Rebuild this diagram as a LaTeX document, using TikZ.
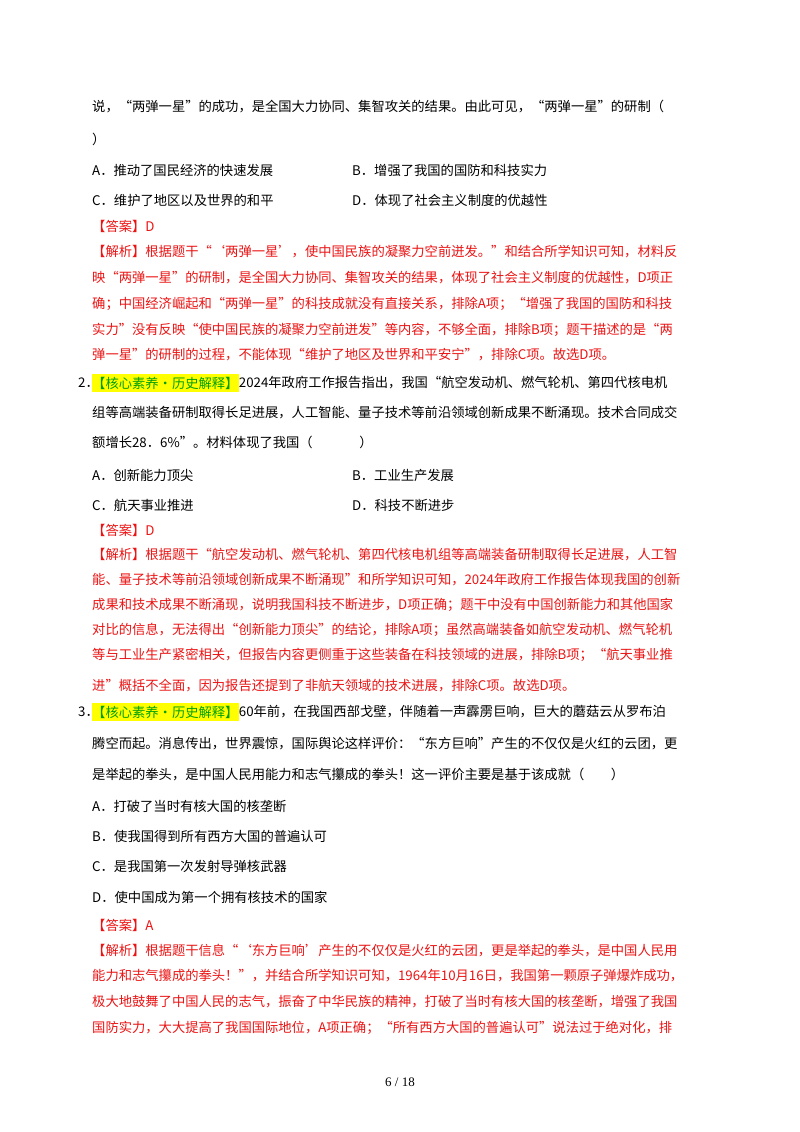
\documentclass[tikz,border=0pt]{standalone}
\usepackage{fontspec}
\setmainfont{Liberation Serif}
\newfontfamily\cjk{Noto Sans CJK SC}
\definecolor{ansred}{RGB}{235,20,20}
\definecolor{taggreen}{RGB}{0,160,0}
\definecolor{hl}{RGB}{255,255,0}
\begin{document}
\begin{tikzpicture}[x=1pt,y=-1pt,
  ln/.style={anchor=west,inner sep=0pt,font=\cjk\fontsize{13.3}{14}\selectfont},
  rd/.style={ln,text=ansred},
  tag/.style={ln,fill=hl,inner ysep=3pt,text=taggreen}]
\useasboundingbox[fill=white] (0,0) rectangle (800,1132);
% Q1 tail
\node[ln] (l1) at (92,107) {说，“两弹一星”的成功，是全国大力协同、集智攻关的结果。由此可见，“两弹一星”的研制（};
\node[ln] (l2) at (92,139) {）};
\node[ln] (o1a) at (92,170) {A．推动了国民经济的快速发展};
\node[ln] (o1b) at (352,170) {B．增强了我国的国防和科技实力};
\node[ln] (o1c) at (92,200) {C．维护了地区以及世界的和平};
\node[ln] (o1d) at (352,200) {D．体现了社会主义制度的优越性};
\node[rd] (a1) at (92,226) {【答案】D};
\node[rd] (e11) at (92,252) {【解析】根据题干“‘两弹一星’，使中国民族的凝聚力空前迸发。”和结合所学知识可知，材料反};
\node[rd] (e12) at (92,278) {映“两弹一星”的研制，是全国大力协同、集智攻关的结果，体现了社会主义制度的优越性，D项正};
\node[rd] (e13) at (92,304) {确；中国经济崛起和“两弹一星”的科技成就没有直接关系，排除A项；“增强了我国的国防和科技};
\node[rd] (e14) at (92,330) {实力”没有反映“使中国民族的凝聚力空前迸发”等内容，不够全面，排除B项；题干描述的是“两};
\node[rd] (e15) at (92,355) {弹一星”的研制的过程，不能体现“维护了地区及世界和平安宁”，排除C项。故选D项。};
% Q2
\node[ln] (n2) at (78,383) {2．};
\node[tag] (t2) at (92,383) {【核心素养·历史解释】};
\node[ln] (q21) at (t2.east) {2024年政府工作报告指出，我国“航空发动机、燃气轮机、第四代核电机};
\node[ln] (q22) at (92,413) {组等高端装备研制取得长足进展，人工智能、量子技术等前沿领域创新成果不断涌现。技术合同成交};
\node[ln] (q23) at (92,442) {额增长28．6\%”。材料体现了我国（\hspace{3.5em}）};
\node[ln] (o2a) at (92,475) {A．创新能力顶尖};
\node[ln] (o2b) at (352,475) {B．工业生产发展};
\node[ln] (o2c) at (92,505) {C．航天事业推进};
\node[ln] (o2d) at (352,505) {D．科技不断进步};
\node[rd] (a2) at (92,530) {【答案】D};
\node[rd] (e21) at (92,555) {【解析】根据题干“航空发动机、燃气轮机、第四代核电机组等高端装备研制取得长足进展，人工智};
\node[rd] (e22) at (92,580) {能、量子技术等前沿领域创新成果不断涌现”和所学知识可知，2024年政府工作报告体现我国的创新};
\node[rd] (e23) at (92,605) {成果和技术成果不断涌现，说明我国科技不断进步，D项正确；题干中没有中国创新能力和其他国家};
\node[rd] (e24) at (92,630) {对比的信息，无法得出“创新能力顶尖”的结论，排除A项；虽然高端装备如航空发动机、燃气轮机};
\node[rd] (e25) at (92,655) {等与工业生产紧密相关，但报告内容更侧重于这些装备在科技领域的进展，排除B项；“航天事业推};
\node[rd] (e26) at (92,686) {进”概括不全面，因为报告还提到了非航天领域的技术进展，排除C项。故选D项。};
% Q3
\node[ln] (n3) at (78,712) {3．};
\node[tag] (t3) at (92,712) {【核心素养·历史解释】};
\node[ln] (q31) at (t3.east) {60年前，在我国西部戈壁，伴随着一声霹雳巨响，巨大的蘑菇云从罗布泊};
\node[ln] (q32) at (92,744) {腾空而起。消息传出，世界震惊，国际舆论这样评价：“东方巨响”产生的不仅仅是火红的云团，更};
\node[ln] (q33) at (92,775) {是举起的拳头，是中国人民用能力和志气攥成的拳头！这一评价主要是基于该成就（\hspace{2em}）};
\node[ln] (o3a) at (92,806) {A．打破了当时有核大国的核垄断};
\node[ln] (o3b) at (92,836) {B．使我国得到所有西方大国的普遍认可};
\node[ln] (o3c) at (92,866) {C．是我国第一次发射导弹核武器};
\node[ln] (o3d) at (92,897) {D．使中国成为第一个拥有核技术的国家};
\node[rd] (a3) at (92,925) {【答案】A};
\node[rd] (e31) at (92,951) {【解析】根据题干信息“‘东方巨响’产生的不仅仅是火红的云团，更是举起的拳头，是中国人民用};
\node[rd] (e32) at (92,976) {能力和志气攥成的拳头！”，并结合所学知识可知，1964年10月16日，我国第一颗原子弹爆炸成功，};
\node[rd] (e33) at (92,1002) {极大地鼓舞了中国人民的志气，振奋了中华民族的精神，打破了当时有核大国的核垄断，增强了我国};
\node[rd] (e34) at (92,1028) {国防实力，大大提高了我国国际地位，A项正确；“所有西方大国的普遍认可”说法过于绝对化，排};
\node[ln,anchor=center,font=\fontsize{13}{14}\selectfont] (pg) at (400,1082) {6 / 18};
\end{tikzpicture}
\end{document}
